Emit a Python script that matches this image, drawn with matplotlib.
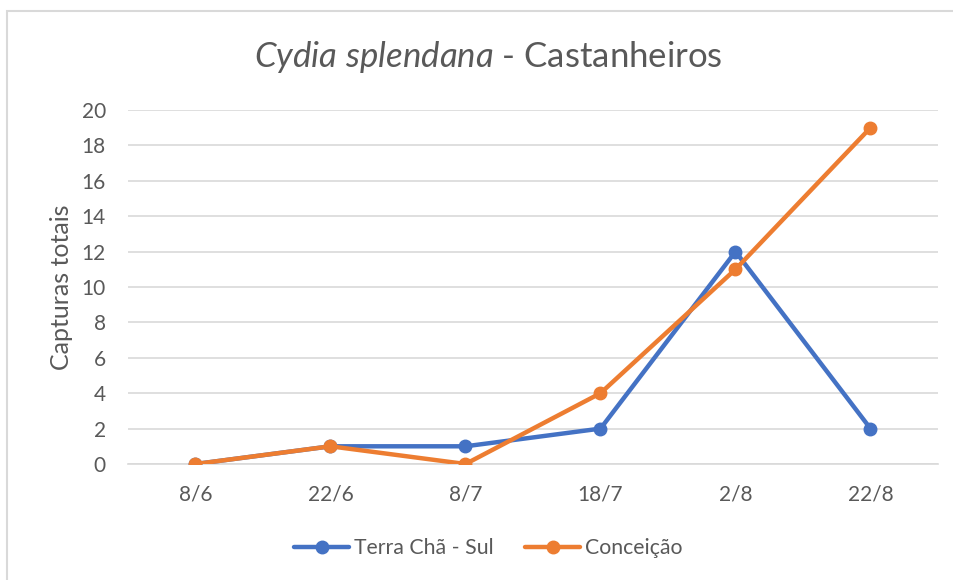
import matplotlib.pyplot as plt
from matplotlib.patches import Rectangle

plt.rcParams['font.family'] = ['Lato', 'DejaVu Sans']
plt.rcParams['mathtext.fontset'] = 'custom'
plt.rcParams['mathtext.it'] = 'Lato:italic'
plt.rcParams['mathtext.rm'] = 'Lato'

datas = ['8/6', '22/6', '8/7', '18/7', '2/8', '22/8']
terra_cha = [0, 1, 1, 2, 12, 2]
conceicao = [0, 1, 0, 4, 11, 19]

azul = '#4472C4'
laranja = '#ED7D31'
cinza = '#595959'

fig = plt.figure(figsize=(9.54, 5.8), dpi=100)
ax = fig.add_axes([128/954, 1-464/580, 810/954, 354/580])

x = range(len(datas))
ax.plot(x, terra_cha, color=azul, lw=3.2, marker='o', ms=9, label='Terra Chã - Sul',
        solid_capstyle='round', zorder=3)
ax.plot(x, conceicao, color=laranja, lw=3.2, marker='o', ms=9, label='Conceição',
        solid_capstyle='round', zorder=4)

ax.set_xlim(-0.5, len(datas) - 0.5)
ax.set_ylim(0, 20)
ax.set_yticks(range(0, 21, 2))
ax.set_xticks(list(x))
ax.set_xticklabels(datas)
ax.grid(axis='y', color='#D9D9D9', lw=1.2)
ax.set_axisbelow(True)
for s in ['top', 'right', 'left']:
    ax.spines[s].set_visible(False)
ax.spines['bottom'].set_color('#D9D9D9')
ax.spines['bottom'].set_linewidth(1.2)
ax.tick_params(length=0, labelsize=15, colors=cinza)
ax.tick_params(axis='y', pad=16)
ax.tick_params(axis='x', pad=15)
ax.set_ylabel('Capturas totais', fontsize=18, color=cinza, labelpad=6)

centro = 488/954
fig.text(centro, 1-57/580, r'$\it{Cydia\ splendana}$ - Castanheiros', ha='center', va='center',
         fontsize=25, color=cinza)

leg = fig.legend(loc='center', bbox_to_anchor=(centro, 1-548/580), ncol=2, frameon=False,
                 fontsize=15.3, handlelength=2.6, handletextpad=0.2, columnspacing=1.5)
for t in leg.get_texts():
    t.set_color(cinza)

fig.patches.append(Rectangle((7/954, -0.05), 1.1, 1-11/580+0.05, transform=fig.transFigure,
                             fill=False, edgecolor='#D9D9D9', lw=1.5))

fig.savefig('out.png', dpi=100)
